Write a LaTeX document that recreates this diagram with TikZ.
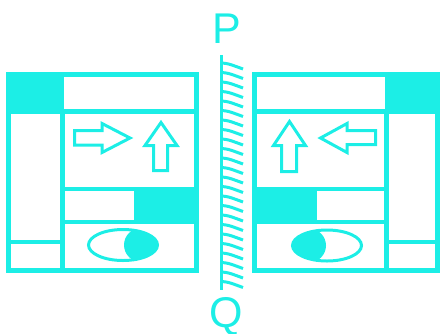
\documentclass[tikz,border=0pt]{standalone}
\usepackage{fontspec}
\setsansfont{Liberation Sans}
\usetikzlibrary{positioning}
\definecolor{cAqua}{RGB}{28,238,230}

\begin{document}
\begin{tikzpicture}[x=1pt,y=-1pt,
  frame/.style={draw=cAqua,line width=4.5pt},
  outl/.style={draw=cAqua,line width=3pt,line join=miter},
  hatch/.style={draw=cAqua,line width=3pt},
  lbl/.style={font=\sffamily\fontsize{43}{43}\selectfont,text=cAqua,inner sep=0pt,anchor=base}]
  \useasboundingbox (0,0) rectangle (441,333);
  % left unit
  \fill[cAqua] (6,72) rectangle (64,113);
  \fill[cAqua] (134,189) rectangle (198,224);
  \draw[frame] (8.5,74.5) rectangle (196.5,270.5);
  \draw[frame] (8.5,111.5) -- (196.5,111.5);
  \draw[frame] (62.5,111.5) -- (62.5,270.5);
  \draw[frame] (62.5,189) -- (196.5,189) (62.5,222) -- (196.5,222);
  \draw[frame] (8.5,242) -- (62.5,242);
  \draw[outl] (74.5,130.5) -- (102,130.5) -- (102,123.5) -- (130,138) -- (102,152.5) -- (102,145) -- (74.5,145) -- cycle;
  \draw[outl] (161,122.5) -- (177,145.5) -- (167.5,145.5) -- (167.5,170.5) -- (153.5,170.5) -- (153.5,145.5) -- (145,145.5) -- cycle;
  \begin{scope}
    \clip (123,245) ellipse [x radius=35,y radius=16];
    \fill[cAqua] (141,245) circle (17);
  \end{scope}
  \draw[outl] (123,245) ellipse [x radius=34.5,y radius=15.5];
  % right unit
  \fill[cAqua] (385,72) rectangle (440,113);
  \fill[cAqua] (252,189) rectangle (317,224);
  \draw[frame] (254.5,74.5) rectangle (437.5,270.5);
  \draw[frame] (254.5,111.5) -- (437.5,111.5);
  \draw[frame] (386.5,111.5) -- (386.5,270.5);
  \draw[frame] (254.5,189) -- (386.5,189) (254.5,222) -- (386.5,222);
  \draw[frame] (386.5,242) -- (437.5,242);
  \draw[outl] (289.5,121.5) -- (305.5,145.5) -- (296.5,145.5) -- (296.5,171.5) -- (281.5,171.5) -- (281.5,145.5) -- (273.5,145.5) -- cycle;
  \draw[outl] (375.5,130.5) -- (347,130.5) -- (347,123.5) -- (320.5,138) -- (347,152.5) -- (347,144.5) -- (375.5,144.5) -- cycle;
  \begin{scope}
    \clip (327,245.5) ellipse [x radius=35,y radius=16];
    \fill[cAqua] (309,245.5) circle (17);
  \end{scope}
  \draw[outl] (327,245.5) ellipse [x radius=34.5,y radius=15.5];
  % mirror PQ
  \draw[cAqua,line width=3.5pt] (221.5,55) coordinate (mtop) -- (221.5,290) coordinate (mbot);
  \foreach \i in {0,...,23}
    \draw[hatch] (221.5,63+9.5*\i) .. controls (228,63.5+9.5*\i) .. (243,69+9.5*\i);
  \node[lbl] (lP) at (227,43) {P};
  \node[lbl] (lQ) at (226,327) {Q};
\end{tikzpicture}
\end{document}
